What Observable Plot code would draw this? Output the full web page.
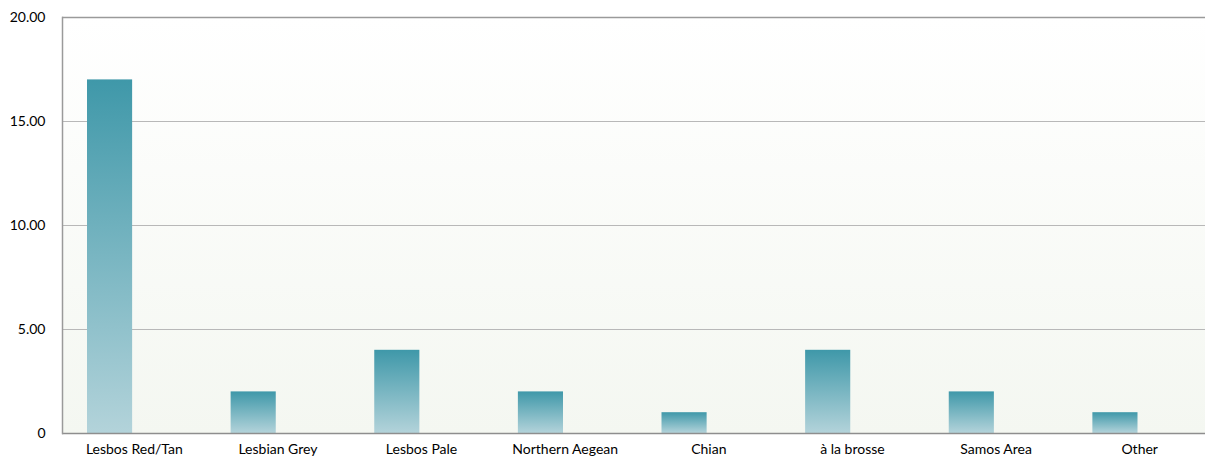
<!DOCTYPE html>
<html>
<head>
<meta charset="utf-8">
<script src="https://cdn.jsdelivr.net/npm/d3@7"></script>
<script src="https://cdn.jsdelivr.net/npm/@observablehq/plot@0.6"></script>
<style>
  html, body { margin: 0; padding: 0; background: #fff; overflow: hidden; }
  svg { display: block; }
</style>
</head>
<body>
<div id="chart"></div>
<script>
// Ware groups and counts
const categories = ["Lesbos Red/Tan", "Lesbian Grey", "Lesbos Pale", "Northern Aegean", "Chian", "à la brosse", "Samos Area", "Other"];
const counts = [17, 2, 4, 2, 1, 4, 2, 1];
const yTicks = [0, 5, 10, 15, 20];

const data = categories.map((c, i) => ({category: c, count: counts[i]}));

// Gradient definitions for bars and plot background
const defs = () => {
  const d = d3.create("svg:defs");
  const bar = d.append("linearGradient").attr("id", "barGrad")
    .attr("x1", 0).attr("y1", 0).attr("x2", 0).attr("y2", 1);
  bar.append("stop").attr("offset", "0%").attr("stop-color", "#3f98a9");
  bar.append("stop").attr("offset", "100%").attr("stop-color", "#b3d3da");
  const bg = d.append("linearGradient").attr("id", "bgGrad")
    .attr("x1", 0).attr("y1", 0).attr("x2", 0).attr("y2", 1);
  bg.append("stop").attr("offset", "0%").attr("stop-color", "#ffffff");
  bg.append("stop").attr("offset", "100%").attr("stop-color", "#f4f7f1");
  return d.node();
};

const chart = Plot.plot({
  width: 1205,
  height: 460,
  marginLeft: 62,
  marginRight: -6,
  marginTop: 17,
  marginBottom: 27,
  style: {fontFamily: "Lato, sans-serif", fontSize: "14px", color: "#000", background: "#fff", overflow: "hidden"},
  x: {domain: categories, padding: 0, round: false, label: null, tickSize: 0, tickPadding: 11},
  y: {domain: [0, 20], ticks: yTicks, label: null, tickSize: 0, tickPadding: 17,
      tickFormat: d => d === 0 ? "0" : d.toFixed(2)},
  marks: [
    defs,
    Plot.frame({fill: "url(#bgGrad)", stroke: null}),
    Plot.ruleY(yTicks.filter(t => t > 0 && t < 20), {stroke: "#b8b8b8", strokeWidth: 1}),
    Plot.ruleY([20], {stroke: "#9a9a9a", strokeWidth: 1.5}),
    Plot.barY(data, {
      x: "category", y: "count",
      fill: "url(#barGrad)",
      insetLeft: 25, insetRight: 73.5,
      style: {filter: "drop-shadow(1px 1px 1.5px rgba(0,0,0,0.22))"}
    }),
    Plot.ruleY([0], {stroke: "#8e8e8e", strokeWidth: 1.5}),
    Plot.frame({anchor: "left", stroke: "#9a9a9a", strokeWidth: 1.5})
  ]
});
document.getElementById("chart").append(chart);
</script>
</body>
</html>
